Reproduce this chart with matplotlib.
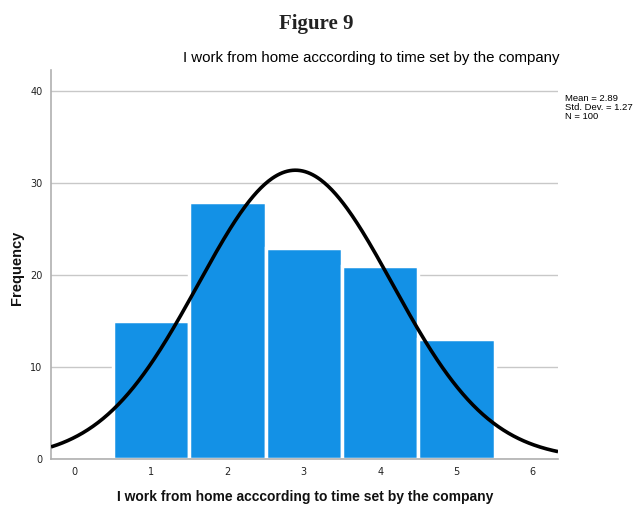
import numpy as np
import matplotlib.pyplot as plt

# histogram data
bins = [1, 2, 3, 4, 5]
counts = [15, 28, 23, 21, 13]
mean, sd, n = 2.89, 1.27, 100
title = 'I work from home acccording to time set by the company'

fig = plt.figure(figsize=(6.33, 5.07), dpi=100)
ax = fig.add_axes([0.0806, 0.0947, 0.801, 0.767])

ax.bar(bins, counts, width=1.0, color='#1391e6', edgecolor='white', linewidth=2.5, zorder=2)

xs = np.linspace(-0.31, 6.33, 400)
ys = n * 1.0 / (sd * np.sqrt(2 * np.pi)) * np.exp(-0.5 * ((xs - mean) / sd) ** 2)
ax.plot(xs, ys, color='black', lw=2.6, zorder=3, solid_capstyle='butt')

ax.set_xlim(-0.31, 6.33)
ax.set_ylim(0, 42.3)
ax.set_xticks(range(0, 7))
ax.set_yticks([0, 10, 20, 30, 40])
ax.tick_params(length=0, labelsize=7, pad=6, colors='#222222')
ax.yaxis.grid(True, color='#c8c8c8', lw=1, zorder=0)
ax.set_axisbelow(True)
for s in ['top', 'right']:
    ax.spines[s].set_visible(False)
for s in ['left', 'bottom']:
    ax.spines[s].set_color('#b0b0b0')
    ax.spines[s].set_linewidth(1.2)

fig.text(0.482, 0.02, title, ha='center', va='center', fontsize=10,
         family='Liberation Sans', fontweight='bold', color='#111111')
fig.text(0.027, 0.471, 'Frequency', ha='center', va='center', rotation=90, fontsize=10.5,
         family='Liberation Sans', fontweight='bold', color='#111111')

fig.text(0.5, 0.953, 'Figure 9', ha='center', va='center', fontsize=15,
         family='Liberation Serif', fontweight='bold', color='#222222')
fig.text(0.586, 0.886, title, ha='center', va='center', fontsize=10.8,
         family='Liberation Sans', color='#000000')
fig.text(0.892, 0.788, 'Mean = %.2f\nStd. Dev. = %.2f\nN = %d' % (mean, sd, n),
         ha='left', va='center', fontsize=6.8, family='Liberation Sans', linespacing=1.0)

fig.savefig('out.png', dpi=100)
